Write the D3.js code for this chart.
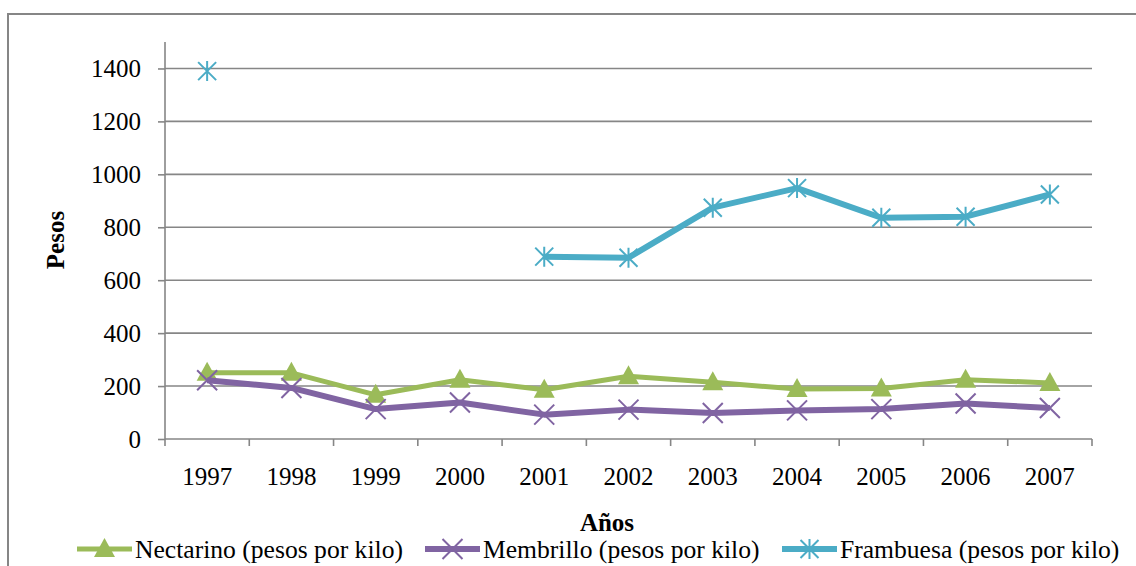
<!DOCTYPE html>
<html><head><meta charset="utf-8">
<script src="https://cdn.jsdelivr.net/npm/d3@7"></script>
<style>body{margin:0;background:#fff}svg{display:block}svg text{font-family:"Liberation Serif","Times New Roman","DejaVu Serif",serif}</style>
</head><body>
<script>
const years = ["1997","1998","1999","2000","2001","2002","2003","2004","2005","2006","2007"];
const nectarino = [250,250,167,224,186,237,214,189,191,224,212];
const membrillo = [222,193,113,138,92,111,98,108,113,134,117];
const frambuesa = [1390,null,null,null,689,685,874,948,836,840,924];
const yTicks = [0,200,400,600,800,1000,1200,1400];
const seriesNames = ["Nectarino (pesos por kilo)","Membrillo (pesos por kilo)","Frambuesa (pesos por kilo)"];

(function(){
const W=1136,H=566;
const svg=d3.select("body").append("svg").attr("width",W).attr("height",H);
const pL=165,pR=1092,pT=42,pB=439;
const x=d3.scaleBand().domain(years).range([pL,pR]).paddingInner(0).paddingOuter(0);
const y=d3.scaleLinear().domain([0,1500]).range([pB,pT]);
const grey="#868686";

svg.append("rect").attr("x",8).attr("y",14).attr("width",1300).attr("height",700)
  .attr("fill","none").attr("stroke",grey).attr("stroke-width",2);

svg.append("g").selectAll("line").data(yTicks.filter(d=>d>0)).join("line")
  .attr("x1",pL).attr("x2",pR).attr("y1",d=>y(d)).attr("y2",d=>y(d))
  .attr("stroke",grey).attr("stroke-width",1.6);

const ya=svg.append("g").attr("transform",`translate(${pL},0)`)
  .call(d3.axisLeft(y).tickValues(yTicks).tickSize(7).tickPadding(17).tickFormat(d3.format("d")));
ya.attr("font-family",null);
ya.select(".domain").attr("stroke",grey).attr("stroke-width",1.6).attr("d",`M0,${pT}V${pB}`);
ya.selectAll(".tick line").attr("stroke",grey).attr("stroke-width",1.6);
ya.selectAll("text").attr("font-size",25).attr("fill","#000");

const xa=svg.append("g").attr("transform",`translate(0,${pB})`)
  .call(d3.axisBottom(x).tickSize(0).tickPadding(28));
xa.attr("font-family",null);
xa.select(".domain").attr("stroke",grey).attr("stroke-width",1.6).attr("d",`M${pL},0H${pR}`);
xa.selectAll("text").attr("font-size",25).attr("fill","#000");
const bounds=years.map(d=>x(d)).concat([pR]);
xa.append("g").selectAll("line").data(bounds).join("line")
  .attr("x1",d=>d).attr("x2",d=>d).attr("y1",0).attr("y2",7).attr("stroke",grey).attr("stroke-width",1.6);

const cx=d=>x(d)+x.bandwidth()/2;

svg.append("text").attr("transform","translate(64,240) rotate(-90)").attr("text-anchor","middle")
  .attr("font-weight","bold").attr("font-size",25).text("Pesos");
svg.append("text").attr("x",607).attr("y",531).attr("text-anchor","middle")
  .attr("font-weight","bold").attr("font-size",25).text("Años");

const colors=["#9BBB59","#8064A2","#4BACC6"];
const widths=[5,6,6];
const allData=[nectarino,membrillo,frambuesa];

function marker(g,type,color){
  if(type===0){
    g.append("path").attr("d","M0,-11L10.5,8L-10.5,8Z").attr("fill",color);
  }else if(type===1){
    g.append("path").attr("d","M-10,-10L10,10M-10,10L10,-10").attr("stroke",color).attr("stroke-width",2).attr("fill","none");
  }else{
    g.append("path").attr("d","M-9,-9L9,9M-9,9L9,-9M0,-10V10").attr("stroke",color).attr("stroke-width",2).attr("fill","none");
  }
}

allData.forEach((vals,i)=>{
  const pts=years.map((yr,j)=>({yr,v:vals[j]}));
  const line=d3.line().defined(d=>d.v!=null).x(d=>cx(d.yr)).y(d=>y(d.v));
  svg.append("path").datum(pts).attr("d",line).attr("fill","none")
    .attr("stroke",colors[i]).attr("stroke-width",widths[i]).attr("stroke-linejoin","round");
  pts.filter(d=>d.v!=null).forEach(d=>{
    const g=svg.append("g").attr("transform",`translate(${cx(d.yr)},${y(d.v)})`);
    marker(g,i,colors[i]);
  });
});

const legX=[77,425,782];
seriesNames.forEach((n,i)=>{
  const g=svg.append("g").attr("transform",`translate(${legX[i]},549)`);
  g.append("line").attr("x1",0).attr("x2",55).attr("y1",0).attr("y2",0).attr("stroke",colors[i]).attr("stroke-width",widths[i]);
  const m=g.append("g").attr("transform","translate(27.5,0)");
  marker(m,i,colors[i]);
  g.append("text").attr("x",58).attr("y",9).attr("font-size",25.6).text(n);
});
})();
</script>
</body></html>
